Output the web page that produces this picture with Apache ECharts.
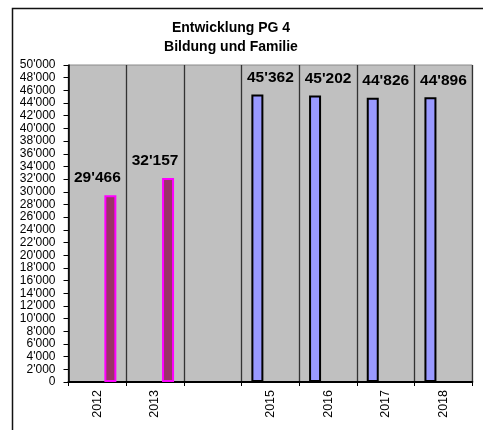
<!DOCTYPE html>
<html>
<head>
<meta charset="utf-8">
<script src="https://cdn.jsdelivr.net/npm/echarts@6/dist/echarts.min.js"></script>
<style>
  html, body { margin: 0; padding: 0; background: #fff; }
  #chart { width: 483px; height: 430px; }
</style>
</head>
<body>
<div id="chart"></div>
<script>
// Jahre der Produktgruppe (2014 ohne Wert, ohne Beschriftung)
const years = ['2012', '2013', '', '2015', '2016', '2017', '2018'];
// Ist-Werte 2012–2013
const actualValues = [29466, 32157, null, null, null, null, null];
// Werte ab 2015
const planValues = [null, null, null, 45362, 45202, 44826, 44896];
// Achsenbereich der Werteachse
const yMin = 0;
const yMax = 50000;
const yStep = 2000;

const FONT = '"Liberation Sans", Arial, sans-serif';

function swissNumber(v) {
  return String(Math.round(v)).replace(/\B(?=(\d{3})+(?!\d))/g, "'");
}

const chart = echarts.init(document.getElementById('chart'), null, { renderer: 'canvas' });

const labelStyle = {
  show: true,
  position: 'top',
  distance: 9,
  fontFamily: FONT,
  fontWeight: 'bold',
  fontSize: 15.5,
  color: '#000',
  formatter: p => swissNumber(p.value)
};

chart.setOption({
  animation: false,
  backgroundColor: '#fff',
  textStyle: { fontFamily: FONT },
  title: {
    text: 'Entwicklung PG 4\nBildung und Familie',
    left: 226,
    top: 14,
    textAlign: 'center',
    textStyle: {
      fontFamily: FONT,
      fontWeight: 'bold',
      fontSize: 14,
      lineHeight: 19,
      color: '#000'
    }
  },
  graphic: [{
    type: 'rect',
    silent: true,
    z: -1,
    shape: { x: 12.5, y: 8.5, width: 700, height: 700 },
    style: { fill: 'none', stroke: '#111', lineWidth: 1.5 }
  }],
  grid: {
    left: 68.5,
    right: 10.7,
    top: 65,
    bottom: 48,
    show: true,
    backgroundColor: '#C0C0C0',
    borderColor: '#8a8a8a',
    borderWidth: 1
  },
  xAxis: {
    type: 'category',
    data: years,
    boundaryGap: true,
    axisLine: { lineStyle: { color: '#000', width: 2 } },
    axisTick: { show: true, length: 4, lineStyle: { color: '#000', width: 1 } },
    splitLine: { show: true, lineStyle: { color: '#333', width: 1.3 } },
    axisLabel: {
      rotate: 90,
      margin: 8,
      fontSize: 12.5,
      color: '#000',
      fontFamily: FONT
    }
  },
  yAxis: {
    type: 'value',
    min: yMin,
    max: yMax,
    interval: yStep,
    splitLine: { show: false },
    axisLine: { show: true, lineStyle: { color: '#000', width: 1.5 } },
    axisTick: { show: true, length: 5, lineStyle: { color: '#000', width: 1 } },
    axisLabel: {
      margin: 13,
      fontSize: 12,
      color: '#000',
      fontFamily: FONT,
      showMinLabel: true,
      showMaxLabel: true,
      hideOverlap: false,
      formatter: v => swissNumber(v)
    }
  },
  series: [
    {
      name: 'Plan',
      type: 'bar',
      data: planValues,
      barWidth: 12,
      barGap: '117%',
      itemStyle: { color: '#9999FF', borderColor: '#000', borderWidth: 2 },
      label: Object.assign({}, labelStyle, { offset: [13, 0] })
    },
    {
      name: 'Ist',
      type: 'bar',
      data: actualValues,
      barWidth: 12,
      barGap: '117%',
      itemStyle: { color: '#993366', borderColor: '#FF00FF', borderWidth: 2 },
      label: Object.assign({}, labelStyle, { offset: [-13, 0] })
    }
  ]
});
</script>
</body>
</html>
